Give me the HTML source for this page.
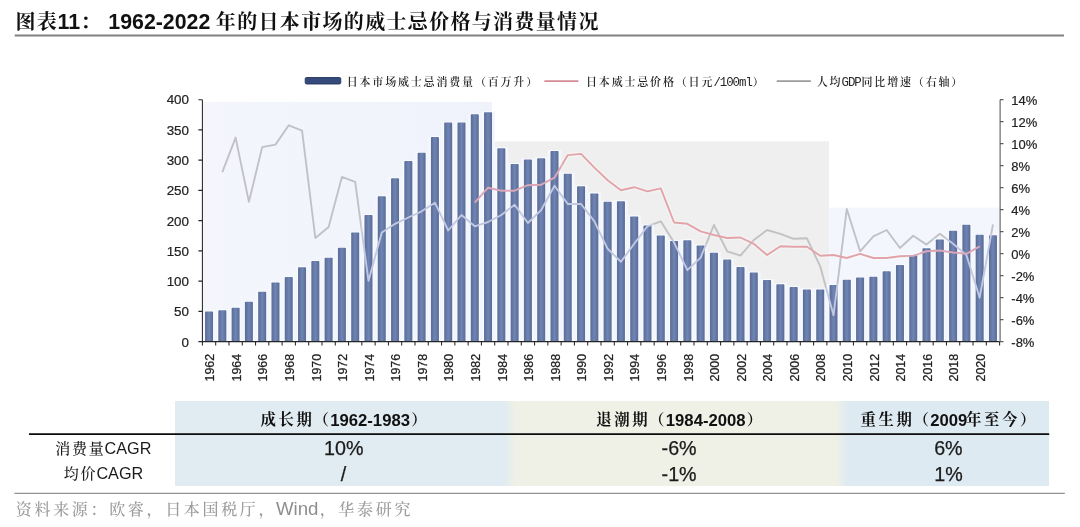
<!DOCTYPE html>
<html lang="zh-CN">
<head>
<meta charset="utf-8">
<title>图表11： 1962-2022 年的日本市场的威士忌价格与消费量情况</title>
<style>
html,body{margin:0;padding:0;background:#fff;}
body{width:1080px;height:527px;position:relative;overflow:hidden;font-family:"Liberation Sans","Noto Serif CJK SC",serif;color:#111;}
.abs{position:absolute;white-space:nowrap;}
.title{left:14.8px;top:8px;font-size:21.33px;line-height:28px;font-weight:bold;color:#111;}
.title .c{font-family:"Liberation Sans","Noto Serif CJK SC",serif;font-size:20px;letter-spacing:1.33px;position:relative;left:0.6px;top:-0.3px;}
.lg{top:73px;height:18px;line-height:18px;font-family:"Liberation Sans","Noto Serif CJK SC",serif;font-size:11px;letter-spacing:1.82px;font-weight:600;color:#262626;}
.lg i{font-style:normal;font-family:"Liberation Mono",monospace;font-size:12.4px;letter-spacing:-1.03px;font-weight:400;margin-left:-0.8px;margin-right:0.8px;}
.blk{left:175px;top:400.5px;width:874px;height:85px;background:linear-gradient(90deg,#e0ecf1 0,#e0ecf1 329px,#eff1e6 341px,#eff1e6 660px,#deeaf1 673px,#deeaf1 100%);}
.th{top:408px;height:26px;line-height:26px;font-size:16.7px;font-weight:bold;color:#111;}
.th .c{font-family:"Liberation Sans","Noto Serif CJK SC",serif;font-size:15.4px;letter-spacing:2.6px;position:relative;left:1.2px;top:-0.8px;}
.td{height:24px;line-height:24px;font-size:19.7px;text-align:center;color:#1a1a1a;-webkit-text-stroke:0.25px #1a1a1a;}
.th .p{margin-left:-1.2px;}
.th .q{margin-left:-2.6px;}
.rl{height:24px;line-height:24px;font-size:16.2px;color:#1a1a1a;}
.rl .c{font-family:"Liberation Sans","Noto Serif CJK SC",serif;font-size:15px;letter-spacing:1.7px;font-weight:500;position:relative;left:0.8px;top:-0.5px;}
.src{left:14.5px;top:496px;font-size:18.67px;line-height:26px;color:#8e8e8e;}
.src .c{font-family:"Liberation Sans","Noto Serif CJK SC",serif;font-size:16px;letter-spacing:2.67px;font-weight:500;position:relative;left:1.3px;top:-0.5px;color:#9c9c9c;}
</style>
</head>
<body>
<div class="abs title"><span class="c">图表</span>11<span class="c">：</span> <span style="position:relative;left:1px">1962-2022</span> <span class="c">年的日本市场的威士忌价格与消费量情况</span></div>
<svg width="1080" height="527" viewBox="0 0 1080 527" style="position:absolute;left:0;top:0">
<defs><linearGradient id="bg" x1="0" x2="1" y1="0" y2="0"><stop offset="0" stop-color="#596b95"/><stop offset="0.5" stop-color="#7085b5"/><stop offset="1" stop-color="#596b95"/></linearGradient><linearGradient id="r1" x1="0" x2="1" y1="0" y2="0"><stop offset="0" stop-color="#f4f6fc"/><stop offset="1" stop-color="#eff2fb"/></linearGradient></defs>
<rect x="203" y="102" width="289" height="239.6" fill="url(#r1)"/>
<rect x="492" y="141.3" width="337" height="200.3" fill="#efefef"/>
<rect x="829" y="207.7" width="170.6" height="133.9" fill="#f3f6fc"/>
<clipPath id="bz">
<rect x="202.2" y="310.4" width="13.69" height="31.2"/>
<rect x="215.49" y="309.19" width="13.69" height="32.41"/>
<rect x="228.77" y="306.78" width="13.69" height="34.82"/>
<rect x="242.06" y="300.74" width="13.69" height="40.86"/>
<rect x="255.35" y="290.65" width="13.69" height="50.95"/>
<rect x="268.63" y="281.41" width="13.69" height="60.19"/>
<rect x="281.92" y="276.09" width="13.69" height="65.51"/>
<rect x="295.21" y="266.13" width="13.69" height="75.47"/>
<rect x="308.49" y="260.09" width="13.69" height="81.51"/>
<rect x="321.78" y="256.64" width="13.69" height="84.96"/>
<rect x="335.07" y="246.8" width="13.69" height="94.8"/>
<rect x="348.35" y="231.52" width="13.69" height="110.08"/>
<rect x="361.64" y="214" width="13.69" height="127.6"/>
<rect x="374.93" y="195.22" width="13.69" height="146.38"/>
<rect x="388.21" y="177.22" width="13.69" height="164.38"/>
<rect x="401.5" y="160" width="13.69" height="181.6"/>
<rect x="414.79" y="151.85" width="13.69" height="189.75"/>
<rect x="428.07" y="136.09" width="13.69" height="205.51"/>
<rect x="441.36" y="121.59" width="13.69" height="220.01"/>
<rect x="454.65" y="121.59" width="13.69" height="220.01"/>
<rect x="467.93" y="113.31" width="13.69" height="228.29"/>
<rect x="481.22" y="111.32" width="13.69" height="230.28"/>
<rect x="494.51" y="147.32" width="13.69" height="194.28"/>
<rect x="507.79" y="162.9" width="13.69" height="178.7"/>
<rect x="521.08" y="158.61" width="13.69" height="182.99"/>
<rect x="534.37" y="157.35" width="13.69" height="184.25"/>
<rect x="547.65" y="150.1" width="13.69" height="191.5"/>
<rect x="560.94" y="172.69" width="13.69" height="168.91"/>
<rect x="574.23" y="185.37" width="13.69" height="156.23"/>
<rect x="587.51" y="192.44" width="13.69" height="149.16"/>
<rect x="600.8" y="200.71" width="13.69" height="140.89"/>
<rect x="614.09" y="200.17" width="13.69" height="141.43"/>
<rect x="627.37" y="215.39" width="13.69" height="126.21"/>
<rect x="640.66" y="224.51" width="13.69" height="117.09"/>
<rect x="653.95" y="234.54" width="13.69" height="107.06"/>
<rect x="667.23" y="240.03" width="13.69" height="101.57"/>
<rect x="680.52" y="239.31" width="13.69" height="102.29"/>
<rect x="693.81" y="244.56" width="13.69" height="97.04"/>
<rect x="707.09" y="251.81" width="13.69" height="89.79"/>
<rect x="720.38" y="258.58" width="13.69" height="83.02"/>
<rect x="733.67" y="265.89" width="13.69" height="75.71"/>
<rect x="746.95" y="271.62" width="13.69" height="69.98"/>
<rect x="760.24" y="279.11" width="13.69" height="62.49"/>
<rect x="773.53" y="283.16" width="13.69" height="58.44"/>
<rect x="786.81" y="285.88" width="13.69" height="55.72"/>
<rect x="800.1" y="288.41" width="13.69" height="53.19"/>
<rect x="813.39" y="288.41" width="13.69" height="53.19"/>
<rect x="826.67" y="283.88" width="13.69" height="57.72"/>
<rect x="839.96" y="278.63" width="13.69" height="62.97"/>
<rect x="853.25" y="276.39" width="13.69" height="65.21"/>
<rect x="866.53" y="275.85" width="13.69" height="65.75"/>
<rect x="879.82" y="270.35" width="13.69" height="71.25"/>
<rect x="893.11" y="263.89" width="13.69" height="77.71"/>
<rect x="906.39" y="254.11" width="13.69" height="87.49"/>
<rect x="919.68" y="247.34" width="13.69" height="94.26"/>
<rect x="932.97" y="238.52" width="13.69" height="103.08"/>
<rect x="946.25" y="229.77" width="13.69" height="111.83"/>
<rect x="959.54" y="223.79" width="13.69" height="117.81"/>
<rect x="972.83" y="233.81" width="13.69" height="107.79"/>
<rect x="986.11" y="234.3" width="13.69" height="107.3"/>
</clipPath>
<mask id="obz" maskUnits="userSpaceOnUse" x="0" y="0" width="1080" height="527"><rect x="0" y="0" width="1080" height="527" fill="#fff"/><g fill="#000">
<rect x="202.2" y="310.4" width="13.69" height="31.2"/>
<rect x="215.49" y="309.19" width="13.69" height="32.41"/>
<rect x="228.77" y="306.78" width="13.69" height="34.82"/>
<rect x="242.06" y="300.74" width="13.69" height="40.86"/>
<rect x="255.35" y="290.65" width="13.69" height="50.95"/>
<rect x="268.63" y="281.41" width="13.69" height="60.19"/>
<rect x="281.92" y="276.09" width="13.69" height="65.51"/>
<rect x="295.21" y="266.13" width="13.69" height="75.47"/>
<rect x="308.49" y="260.09" width="13.69" height="81.51"/>
<rect x="321.78" y="256.64" width="13.69" height="84.96"/>
<rect x="335.07" y="246.8" width="13.69" height="94.8"/>
<rect x="348.35" y="231.52" width="13.69" height="110.08"/>
<rect x="361.64" y="214" width="13.69" height="127.6"/>
<rect x="374.93" y="195.22" width="13.69" height="146.38"/>
<rect x="388.21" y="177.22" width="13.69" height="164.38"/>
<rect x="401.5" y="160" width="13.69" height="181.6"/>
<rect x="414.79" y="151.85" width="13.69" height="189.75"/>
<rect x="428.07" y="136.09" width="13.69" height="205.51"/>
<rect x="441.36" y="121.59" width="13.69" height="220.01"/>
<rect x="454.65" y="121.59" width="13.69" height="220.01"/>
<rect x="467.93" y="113.31" width="13.69" height="228.29"/>
<rect x="481.22" y="111.32" width="13.69" height="230.28"/>
<rect x="494.51" y="147.32" width="13.69" height="194.28"/>
<rect x="507.79" y="162.9" width="13.69" height="178.7"/>
<rect x="521.08" y="158.61" width="13.69" height="182.99"/>
<rect x="534.37" y="157.35" width="13.69" height="184.25"/>
<rect x="547.65" y="150.1" width="13.69" height="191.5"/>
<rect x="560.94" y="172.69" width="13.69" height="168.91"/>
<rect x="574.23" y="185.37" width="13.69" height="156.23"/>
<rect x="587.51" y="192.44" width="13.69" height="149.16"/>
<rect x="600.8" y="200.71" width="13.69" height="140.89"/>
<rect x="614.09" y="200.17" width="13.69" height="141.43"/>
<rect x="627.37" y="215.39" width="13.69" height="126.21"/>
<rect x="640.66" y="224.51" width="13.69" height="117.09"/>
<rect x="653.95" y="234.54" width="13.69" height="107.06"/>
<rect x="667.23" y="240.03" width="13.69" height="101.57"/>
<rect x="680.52" y="239.31" width="13.69" height="102.29"/>
<rect x="693.81" y="244.56" width="13.69" height="97.04"/>
<rect x="707.09" y="251.81" width="13.69" height="89.79"/>
<rect x="720.38" y="258.58" width="13.69" height="83.02"/>
<rect x="733.67" y="265.89" width="13.69" height="75.71"/>
<rect x="746.95" y="271.62" width="13.69" height="69.98"/>
<rect x="760.24" y="279.11" width="13.69" height="62.49"/>
<rect x="773.53" y="283.16" width="13.69" height="58.44"/>
<rect x="786.81" y="285.88" width="13.69" height="55.72"/>
<rect x="800.1" y="288.41" width="13.69" height="53.19"/>
<rect x="813.39" y="288.41" width="13.69" height="53.19"/>
<rect x="826.67" y="283.88" width="13.69" height="57.72"/>
<rect x="839.96" y="278.63" width="13.69" height="62.97"/>
<rect x="853.25" y="276.39" width="13.69" height="65.21"/>
<rect x="866.53" y="275.85" width="13.69" height="65.75"/>
<rect x="879.82" y="270.35" width="13.69" height="71.25"/>
<rect x="893.11" y="263.89" width="13.69" height="77.71"/>
<rect x="906.39" y="254.11" width="13.69" height="87.49"/>
<rect x="919.68" y="247.34" width="13.69" height="94.26"/>
<rect x="932.97" y="238.52" width="13.69" height="103.08"/>
<rect x="946.25" y="229.77" width="13.69" height="111.83"/>
<rect x="959.54" y="223.79" width="13.69" height="117.81"/>
<rect x="972.83" y="233.81" width="13.69" height="107.79"/>
<rect x="986.11" y="234.3" width="13.69" height="107.3"/>
</g></mask>
<rect x="203" y="100" width="796.6" height="241.6" fill="#f3f7fd" clip-path="url(#bz)"/>
<g fill="url(#bg)" stroke="#ffffff" stroke-opacity="0.45" stroke-width="2" paint-order="stroke">
<rect x="205.04" y="311.4" width="8" height="30.2" rx="0.8"/>
<rect x="218.33" y="310.19" width="8" height="31.41" rx="0.8"/>
<rect x="231.62" y="307.78" width="8" height="33.82" rx="0.8"/>
<rect x="244.9" y="301.74" width="8" height="39.86" rx="0.8"/>
<rect x="258.19" y="291.65" width="8" height="49.95" rx="0.8"/>
<rect x="271.48" y="282.41" width="8" height="59.19" rx="0.8"/>
<rect x="284.76" y="277.09" width="8" height="64.51" rx="0.8"/>
<rect x="298.05" y="267.13" width="8" height="74.47" rx="0.8"/>
<rect x="311.34" y="261.09" width="8" height="80.51" rx="0.8"/>
<rect x="324.62" y="257.64" width="8" height="83.96" rx="0.8"/>
<rect x="337.91" y="247.8" width="8" height="93.8" rx="0.8"/>
<rect x="351.2" y="232.52" width="8" height="109.08" rx="0.8"/>
<rect x="364.48" y="215" width="8" height="126.6" rx="0.8"/>
<rect x="377.77" y="196.22" width="8" height="145.38" rx="0.8"/>
<rect x="391.06" y="178.22" width="8" height="163.38" rx="0.8"/>
<rect x="404.34" y="161" width="8" height="180.6" rx="0.8"/>
<rect x="417.63" y="152.85" width="8" height="188.75" rx="0.8"/>
<rect x="430.92" y="137.09" width="8" height="204.51" rx="0.8"/>
<rect x="444.2" y="122.59" width="8" height="219.01" rx="0.8"/>
<rect x="457.49" y="122.59" width="8" height="219.01" rx="0.8"/>
<rect x="470.78" y="114.31" width="8" height="227.29" rx="0.8"/>
<rect x="484.06" y="112.32" width="8" height="229.28" rx="0.8"/>
<rect x="497.35" y="148.32" width="8" height="193.28" rx="0.8"/>
<rect x="510.64" y="163.9" width="8" height="177.7" rx="0.8"/>
<rect x="523.92" y="159.61" width="8" height="181.99" rx="0.8"/>
<rect x="537.21" y="158.35" width="8" height="183.25" rx="0.8"/>
<rect x="550.5" y="151.1" width="8" height="190.5" rx="0.8"/>
<rect x="563.78" y="173.69" width="8" height="167.91" rx="0.8"/>
<rect x="577.07" y="186.37" width="8" height="155.23" rx="0.8"/>
<rect x="590.36" y="193.44" width="8" height="148.16" rx="0.8"/>
<rect x="603.64" y="201.71" width="8" height="139.89" rx="0.8"/>
<rect x="616.93" y="201.17" width="8" height="140.43" rx="0.8"/>
<rect x="630.22" y="216.39" width="8" height="125.21" rx="0.8"/>
<rect x="643.5" y="225.51" width="8" height="116.09" rx="0.8"/>
<rect x="656.79" y="235.54" width="8" height="106.06" rx="0.8"/>
<rect x="670.08" y="241.03" width="8" height="100.57" rx="0.8"/>
<rect x="683.36" y="240.31" width="8" height="101.29" rx="0.8"/>
<rect x="696.65" y="245.56" width="8" height="96.04" rx="0.8"/>
<rect x="709.94" y="252.81" width="8" height="88.79" rx="0.8"/>
<rect x="723.22" y="259.58" width="8" height="82.02" rx="0.8"/>
<rect x="736.51" y="266.89" width="8" height="74.71" rx="0.8"/>
<rect x="749.8" y="272.62" width="8" height="68.98" rx="0.8"/>
<rect x="763.08" y="280.11" width="8" height="61.49" rx="0.8"/>
<rect x="776.37" y="284.16" width="8" height="57.44" rx="0.8"/>
<rect x="789.66" y="286.88" width="8" height="54.72" rx="0.8"/>
<rect x="802.94" y="289.41" width="8" height="52.19" rx="0.8"/>
<rect x="816.23" y="289.41" width="8" height="52.19" rx="0.8"/>
<rect x="829.52" y="284.88" width="8" height="56.72" rx="0.8"/>
<rect x="842.8" y="279.63" width="8" height="61.97" rx="0.8"/>
<rect x="856.09" y="277.39" width="8" height="64.21" rx="0.8"/>
<rect x="869.38" y="276.85" width="8" height="64.75" rx="0.8"/>
<rect x="882.66" y="271.35" width="8" height="70.25" rx="0.8"/>
<rect x="895.95" y="264.89" width="8" height="76.71" rx="0.8"/>
<rect x="909.24" y="255.11" width="8" height="86.49" rx="0.8"/>
<rect x="922.52" y="248.34" width="8" height="93.26" rx="0.8"/>
<rect x="935.81" y="239.52" width="8" height="102.08" rx="0.8"/>
<rect x="949.1" y="230.77" width="8" height="110.83" rx="0.8"/>
<rect x="962.38" y="224.79" width="8" height="116.81" rx="0.8"/>
<rect x="975.67" y="234.81" width="8" height="106.79" rx="0.8"/>
<rect x="988.96" y="235.3" width="8" height="106.3" rx="0.8"/>
</g>
<g fill="none" stroke-linejoin="round">
<g mask="url(#obz)">
<polyline points="474.78,202.7 488.06,187.7 501.35,190.7 514.64,190.7 527.92,185.2 541.21,184.7 554.5,177.7 567.78,155.1 581.07,153.9 594.36,167.6 607.64,180.2 620.93,190.2 634.22,187.2 647.5,191.4 660.79,188.4 674.08,222.5 687.36,223.8 700.65,231.3 713.94,235 727.22,238 740.51,237.5 753.8,243.8 767.08,255 780.37,246.3 793.66,246.8 806.94,246.8 820.23,255.8 833.52,255 846.8,258 860.09,253.8 873.38,258 886.66,258 899.95,256.3 913.24,255.8 926.52,251.3 939.81,250.6 953.1,252.6 966.38,253.8 979.67,246.3" stroke="#ffffff" stroke-opacity="0.3" stroke-width="4.6"/>
<polyline points="222.33,172.1 235.62,137.6 248.9,201.9 262.19,147.1 275.48,144.6 288.76,125.3 302.05,130.6 315.34,238 328.62,227 341.91,176.9 355.2,181.9 368.48,280.9 381.77,232.5 395.06,223.8 408.34,217.5 421.63,211.3 434.92,202.7 448.2,230.5 461.49,215 474.78,226.3 488.06,222 501.35,215 514.64,204.7 527.92,223 541.21,210 554.5,185.7 567.78,204 581.07,204 594.36,221.3 607.64,248.8 620.93,261.8 634.22,243.8 647.5,226.3 660.79,221.3 674.08,242.6 687.36,270.1 700.65,257.6 713.94,225 727.22,251.3 740.51,255.6 753.8,240 767.08,230 780.37,233.8 793.66,238.8 806.94,238.3 820.23,266.3 833.52,315.2 846.8,209 860.09,251.3 873.38,236.3 886.66,230 899.95,248 913.24,235.8 926.52,244.6 939.81,233.8 953.1,243.8 966.38,255 979.67,297.7 992.96,224.5" stroke="#c2c2c6" stroke-width="1.9"/>
<polyline points="474.78,202.7 488.06,187.7 501.35,190.7 514.64,190.7 527.92,185.2 541.21,184.7 554.5,177.7 567.78,155.1 581.07,153.9 594.36,167.6 607.64,180.2 620.93,190.2 634.22,187.2 647.5,191.4 660.79,188.4 674.08,222.5 687.36,223.8 700.65,231.3 713.94,235 727.22,238 740.51,237.5 753.8,243.8 767.08,255 780.37,246.3 793.66,246.8 806.94,246.8 820.23,255.8 833.52,255 846.8,258 860.09,253.8 873.38,258 886.66,258 899.95,256.3 913.24,255.8 926.52,251.3 939.81,250.6 953.1,252.6 966.38,253.8 979.67,246.3" stroke="#e2a4a8" stroke-width="1.9"/>
</g>
<g clip-path="url(#bz)">
<polyline points="222.33,172.1 235.62,137.6 248.9,201.9 262.19,147.1 275.48,144.6 288.76,125.3 302.05,130.6 315.34,238 328.62,227 341.91,176.9 355.2,181.9 368.48,280.9 381.77,232.5 395.06,223.8 408.34,217.5 421.63,211.3 434.92,202.7 448.2,230.5 461.49,215 474.78,226.3 488.06,222 501.35,215 514.64,204.7 527.92,223 541.21,210 554.5,185.7 567.78,204 581.07,204 594.36,221.3 607.64,248.8 620.93,261.8 634.22,243.8 647.5,226.3 660.79,221.3 674.08,242.6 687.36,270.1 700.65,257.6 713.94,225 727.22,251.3 740.51,255.6 753.8,240 767.08,230 780.37,233.8 793.66,238.8 806.94,238.3 820.23,266.3 833.52,315.2 846.8,209 860.09,251.3 873.38,236.3 886.66,230 899.95,248 913.24,235.8 926.52,244.6 939.81,233.8 953.1,243.8 966.38,255 979.67,297.7 992.96,224.5" stroke="#c2c8e1" stroke-width="1.9"/>
<polyline points="474.78,202.7 488.06,187.7 501.35,190.7 514.64,190.7 527.92,185.2 541.21,184.7 554.5,177.7 567.78,155.1 581.07,153.9 594.36,167.6 607.64,180.2 620.93,190.2 634.22,187.2 647.5,191.4 660.79,188.4 674.08,222.5 687.36,223.8 700.65,231.3 713.94,235 727.22,238 740.51,237.5 753.8,243.8 767.08,255 780.37,246.3 793.66,246.8 806.94,246.8 820.23,255.8 833.52,255 846.8,258 860.09,253.8 873.38,258 886.66,258 899.95,256.3 913.24,255.8 926.52,251.3 939.81,250.6 953.1,252.6 966.38,253.8 979.67,246.3" stroke="#dba6b6" stroke-width="2"/>
</g>
</g>
<g stroke="#262626" stroke-width="1.05" fill="none">
<path d="M202.4 99.65 V341.6 H999.6"/>
<path d="M198.4 99.65 h4 M198.4 129.89 h4 M198.4 160.14 h4 M198.4 190.38 h4 M198.4 220.62 h4 M198.4 250.87 h4 M198.4 281.11 h4 M198.4 311.36 h4 M198.4 341.6 h4 M202.4 341.6 v4 M215.69 341.6 v4 M228.97 341.6 v4 M242.26 341.6 v4 M255.55 341.6 v4 M268.83 341.6 v4 M282.12 341.6 v4 M295.41 341.6 v4 M308.69 341.6 v4 M321.98 341.6 v4 M335.27 341.6 v4 M348.55 341.6 v4 M361.84 341.6 v4 M375.13 341.6 v4 M388.41 341.6 v4 M401.7 341.6 v4 M414.99 341.6 v4 M428.27 341.6 v4 M441.56 341.6 v4 M454.85 341.6 v4 M468.13 341.6 v4 M481.42 341.6 v4 M494.71 341.6 v4 M507.99 341.6 v4 M521.28 341.6 v4 M534.57 341.6 v4 M547.85 341.6 v4 M561.14 341.6 v4 M574.43 341.6 v4 M587.71 341.6 v4 M601 341.6 v4 M614.29 341.6 v4 M627.57 341.6 v4 M640.86 341.6 v4 M654.15 341.6 v4 M667.43 341.6 v4 M680.72 341.6 v4 M694.01 341.6 v4 M707.29 341.6 v4 M720.58 341.6 v4 M733.87 341.6 v4 M747.15 341.6 v4 M760.44 341.6 v4 M773.73 341.6 v4 M787.01 341.6 v4 M800.3 341.6 v4 M813.59 341.6 v4 M826.87 341.6 v4 M840.16 341.6 v4 M853.45 341.6 v4 M866.73 341.6 v4 M880.02 341.6 v4 M893.31 341.6 v4 M906.59 341.6 v4 M919.88 341.6 v4 M933.17 341.6 v4 M946.45 341.6 v4 M959.74 341.6 v4 M973.03 341.6 v4 M986.31 341.6 v4 M999.6 341.6 v4 "/>
</g>
<g stroke="#5c5c5c" stroke-width="1.1" fill="none">
<path d="M1000.1 99.65 V341.6 M1000.1 99.65 h3.4 M1000.1 121.65 h3.4 M1000.1 143.64 h3.4 M1000.1 165.64 h3.4 M1000.1 187.63 h3.4 M1000.1 209.63 h3.4 M1000.1 231.62 h3.4 M1000.1 253.62 h3.4 M1000.1 275.61 h3.4 M1000.1 297.61 h3.4 M1000.1 319.6 h3.4 M1000.1 341.6 h3.4 "/>
</g>
<g font-family="'Liberation Sans', sans-serif" font-size="13.4" fill="#222" stroke="#222" stroke-width="0.2">
<text x="189" y="104.35" text-anchor="end">400</text>
<text x="189" y="134.66" text-anchor="end">350</text>
<text x="189" y="164.96" text-anchor="end">300</text>
<text x="189" y="195.27" text-anchor="end">250</text>
<text x="189" y="225.57" text-anchor="end">200</text>
<text x="189" y="255.88" text-anchor="end">150</text>
<text x="189" y="286.19" text-anchor="end">100</text>
<text x="189" y="316.49" text-anchor="end">50</text>
<text x="189" y="346.8" text-anchor="end">0</text>
<text x="1011.3" y="104.65" font-size="13">14%</text>
<text x="1011.3" y="126.7" font-size="13">12%</text>
<text x="1011.3" y="148.75" font-size="13">10%</text>
<text x="1011.3" y="170.8" font-size="13">8%</text>
<text x="1011.3" y="192.85" font-size="13">6%</text>
<text x="1011.3" y="214.9" font-size="13">4%</text>
<text x="1011.3" y="236.95" font-size="13">2%</text>
<text x="1011.3" y="259" font-size="13">0%</text>
<text x="1011.3" y="281.05" font-size="13">-2%</text>
<text x="1011.3" y="303.1" font-size="13">-4%</text>
<text x="1011.3" y="325.15" font-size="13">-6%</text>
<text x="1011.3" y="347.2" font-size="13">-8%</text>
</g>
<g font-family="'Liberation Sans', sans-serif" font-size="12.4" fill="#222" stroke="#222" stroke-width="0.25">
<text transform="translate(214.24 381.5) rotate(-90)" x="0" y="0">1962</text>
<text transform="translate(240.82 381.5) rotate(-90)" x="0" y="0">1964</text>
<text transform="translate(267.39 381.5) rotate(-90)" x="0" y="0">1966</text>
<text transform="translate(293.96 381.5) rotate(-90)" x="0" y="0">1968</text>
<text transform="translate(320.54 381.5) rotate(-90)" x="0" y="0">1970</text>
<text transform="translate(347.11 381.5) rotate(-90)" x="0" y="0">1972</text>
<text transform="translate(373.68 381.5) rotate(-90)" x="0" y="0">1974</text>
<text transform="translate(400.26 381.5) rotate(-90)" x="0" y="0">1976</text>
<text transform="translate(426.83 381.5) rotate(-90)" x="0" y="0">1978</text>
<text transform="translate(453.4 381.5) rotate(-90)" x="0" y="0">1980</text>
<text transform="translate(479.98 381.5) rotate(-90)" x="0" y="0">1982</text>
<text transform="translate(506.55 381.5) rotate(-90)" x="0" y="0">1984</text>
<text transform="translate(533.12 381.5) rotate(-90)" x="0" y="0">1986</text>
<text transform="translate(559.7 381.5) rotate(-90)" x="0" y="0">1988</text>
<text transform="translate(586.27 381.5) rotate(-90)" x="0" y="0">1990</text>
<text transform="translate(612.84 381.5) rotate(-90)" x="0" y="0">1992</text>
<text transform="translate(639.42 381.5) rotate(-90)" x="0" y="0">1994</text>
<text transform="translate(665.99 381.5) rotate(-90)" x="0" y="0">1996</text>
<text transform="translate(692.56 381.5) rotate(-90)" x="0" y="0">1998</text>
<text transform="translate(719.14 381.5) rotate(-90)" x="0" y="0">2000</text>
<text transform="translate(745.71 381.5) rotate(-90)" x="0" y="0">2002</text>
<text transform="translate(772.28 381.5) rotate(-90)" x="0" y="0">2004</text>
<text transform="translate(798.86 381.5) rotate(-90)" x="0" y="0">2006</text>
<text transform="translate(825.43 381.5) rotate(-90)" x="0" y="0">2008</text>
<text transform="translate(852 381.5) rotate(-90)" x="0" y="0">2010</text>
<text transform="translate(878.58 381.5) rotate(-90)" x="0" y="0">2012</text>
<text transform="translate(905.15 381.5) rotate(-90)" x="0" y="0">2014</text>
<text transform="translate(931.72 381.5) rotate(-90)" x="0" y="0">2016</text>
<text transform="translate(958.3 381.5) rotate(-90)" x="0" y="0">2018</text>
<text transform="translate(984.87 381.5) rotate(-90)" x="0" y="0">2020</text>
</g>
<rect x="305.2" y="77.5" width="35.6" height="6.5" rx="1.4" fill="#36497b" stroke="#24345e" stroke-width="0.9"/>
<path d="M544.4 81.1 H578.4" stroke="#d58c94" stroke-width="1.6"/>
<path d="M776.7 81.1 H810.9" stroke="#9c9c9c" stroke-width="1.6"/>
<path d="M14.7 35.5 H1064" stroke="#808284" stroke-width="1.8"/>
</svg>
<div class="abs blk"></div>
<div class="abs th" style="left:259.4px;"><span class="c">成长期</span><span class="c p">（</span>1962-1983<span class="c">）</span></div>
<div class="abs th" style="left:595px;"><span class="c">退潮期</span><span class="c p">（</span>1984-2008<span class="c">）</span></div>
<div class="abs th" style="left:859.4px;"><span class="c">重生期</span><span class="c p">（</span>2009<span class="c q">年至今）</span></div>
<svg class="abs" width="1080" height="527" viewBox="0 0 1080 527" style="left:0;top:0"><path d="M29 434.1 H1049.2" stroke="#0c0c0c" stroke-width="1.7"/><path d="M14.4 493.3 H1064.8" stroke="#909396" stroke-width="1.3"/></svg>
<div class="abs rl" style="left:54.5px;top:436.2px;"><span class="c">消费量</span>CAGR</div>
<div class="abs rl" style="left:63px;top:461.3px;"><span class="c">均价</span>CAGR</div>
<div class="abs td" style="left:175.2px;width:337px;top:435.7px;">10%</div>
<div class="abs td" style="left:512.6px;width:333px;top:435.7px;">-6%</div>
<div class="abs td" style="left:846.4px;width:204px;top:435.7px;">6%</div>
<div class="abs td" style="left:175px;width:337px;top:461.6px;">/</div>
<div class="abs td" style="left:512.6px;width:333px;top:461.6px;">-1%</div>
<div class="abs td" style="left:846.6px;width:204px;top:461.6px;">1%</div>
<div class="abs src"><span class="c">资料来源：欧睿，日本国税厅，</span>Wind<span class="c">，华泰研究</span></div>
<div class="abs lg" style="left:346.7px;">日本市场威士忌消费量（百万升）</div>
<div class="abs lg" style="left:586px;">日本威士忌价格（日元<i>/100ml</i>）</div>
<div class="abs lg" style="left:816.7px;">人均<i>GDP</i>同比增速（右轴）</div>
</body>
</html>
